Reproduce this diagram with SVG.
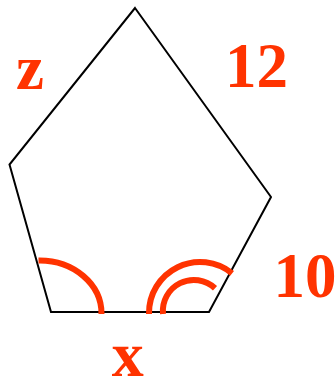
<svg xmlns="http://www.w3.org/2000/svg" width="336" height="379" viewBox="0 0 336 379">
  <style>
    .lbl { font-family: "Liberation Serif", "Times New Roman", serif; font-weight: bold; fill: #FF3300; text-anchor: middle; }
    .arc { fill: none; stroke: #FF3300; stroke-width: 6; }
    .edge { fill: none; stroke: #000; stroke-width: 2; stroke-linejoin: miter; }
  </style>
  <rect width="336" height="379" fill="#fff"/>
  <g id="pentagon">
    <polygon class="edge" points="135,8 271,197 209,312 51,312 9.5,164.5"/>
  </g>
  <g id="angles">
    <path class="arc" d="M38.5,260.5 A62,53 0 0 1 101.5,314"/>
    <path class="arc" d="M149,314 A51,51 0 0 1 232.1,273.4"/>
    <path class="arc" d="M163,314 A31,31 0 0 1 215,288.3"/>
  </g>
  <g id="labels">
    <text class="lbl" font-size="63" x="30" y="88.5">z</text>
    <text class="lbl" font-size="63" x="256.5" y="87">12</text>
    <text class="lbl" font-size="63" x="305" y="296.5">10</text>
    <text class="lbl" font-size="64" x="127.7" y="376">x</text>
  </g>
</svg>
